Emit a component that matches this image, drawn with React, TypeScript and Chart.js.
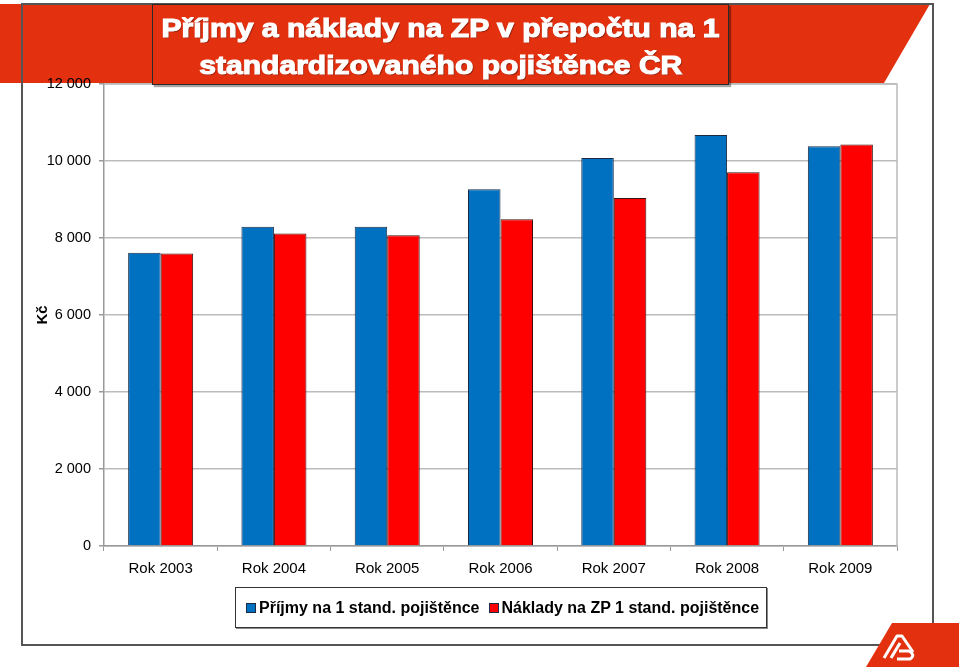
import React, { useEffect, useRef } from "react";
import { Chart, registerables } from "chart.js";

Chart.register(...registerables);

const categories = ["Rok 2003", "Rok 2004", "Rok 2005", "Rok 2006", "Rok 2007", "Rok 2008", "Rok 2009"];
const incomeValues = [7620, 8290, 8295, 9265, 10080, 10675, 10380];
const costValues = [7600, 8120, 8070, 8485, 9040, 9705, 10430];
const seriesLabels = ["Příjmy na 1 stand. pojištěnce", "Náklady na ZP 1 stand. pojištěnce"];
const seriesColors = ["#0070C0", "#FF0000"];
const titleLines = ["Příjmy a náklady na ZP v přepočtu na 1", "standardizovaného pojištěnce ČR"];
const yAxisTitle = "Kč";
const yMin = 0;
const yMax = 12000;
const yStep = 2000;

const RED = "#E3300F";
const FONT = "'Liberation Sans', Arial, Helvetica, sans-serif";

const formatThousands = (v: number) => String(v).replace(/\B(?=(\d{3})+(?!\d))/g, " ");

const plotBorder = {
  id: "plotBorder",
  beforeDatasetsDraw(chart: any) {
    const { ctx, chartArea } = chart;
    ctx.save();
    ctx.strokeStyle = "#BBBBBB";
    ctx.lineWidth = 1.5;
    ctx.beginPath();
    ctx.moveTo(chartArea.left, chartArea.top);
    ctx.lineTo(chartArea.right, chartArea.top);
    ctx.lineTo(chartArea.right, chartArea.bottom);
    ctx.stroke();
    ctx.restore();
  },
};

export default function App() {
  const canvasRef = useRef<HTMLCanvasElement | null>(null);

  useEffect(() => {
    if (!canvasRef.current) return;
    const chart = new Chart(canvasRef.current, {
      type: "bar",
      data: {
        labels: categories,
        datasets: [
          {
            label: seriesLabels[0],
            data: incomeValues,
            backgroundColor: seriesColors[0],
            borderColor: "#1B2B45",
            borderWidth: 1,
            categoryPercentage: 0.574,
            barPercentage: 1,
          },
          {
            label: seriesLabels[1],
            data: costValues,
            backgroundColor: seriesColors[1],
            borderColor: "#3A1010",
            borderWidth: 1,
            categoryPercentage: 0.574,
            barPercentage: 1,
          },
        ],
      },
      options: {
        responsive: false,
        animation: false,
        devicePixelRatio: 1,
        layout: { padding: { left: 30, right: 62, top: 84, bottom: 85 } },
        plugins: {
          legend: { display: false },
          title: { display: false },
          tooltip: { enabled: false },
        },
        scales: {
          x: {
            grid: {
              display: true,
              drawOnChartArea: false,
              drawTicks: true,
              tickLength: 5,
              color: "#999999",
              offset: true,
            },
            border: { color: "#999999", width: 1.5 },
            ticks: {
              color: "#000000",
              font: { family: FONT, size: 15 },
              padding: 9,
              maxRotation: 0,
              autoSkip: false,
            },
            afterFit: (s: any) => {
              s.height = 40;
            },
          },
          y: {
            min: yMin,
            max: yMax,
            ticks: {
              stepSize: yStep,
              color: "#000000",
              font: { family: FONT, size: 14.5 },
              padding: 8,
              callback: (v: any) => formatThousands(Number(v)),
            },
            grid: {
              color: "#BBBBBB",
              lineWidth: 1.5,
              tickLength: 5,
              drawTicks: true,
              tickColor: "#999999",
            },
            border: { color: "#999999", width: 1.5 },
            title: {
              display: true,
              text: yAxisTitle,
              color: "#000000",
              font: { family: FONT, size: 15, weight: "bold" },
            },
            afterFit: (s: any) => {
              s.width = 74;
            },
          },
        },
      },
      plugins: [plotBorder],
    });
    return () => chart.destroy();
  }, []);

  return (
    <div style={{ position: "absolute", left: 0, top: 0, width: 959, height: 671, overflow: "hidden", background: "#fff" }}>
      <svg width={959} height={671} style={{ position: "absolute", left: 0, top: 0 }}>
        <polygon points="0,4 930,4 884,83 0,83" fill={RED} />
        <rect x={22} y={4} width={911} height={641} fill="none" stroke="#555" strokeWidth={2} />
        <polygon points="892,623 959,623 959,667 866,667" fill={RED} />
        <g fill="none" stroke="#fff" strokeWidth={3} strokeLinejoin="round">
          <polyline points="884,658 897,636 902,636 913,652" />
          <polyline points="891,658 900,643" />
          <path d="M899,651 L909,651 Q916,655 910,659 L897,659" />
        </g>
      </svg>
      <canvas ref={canvasRef} width={959} height={671} style={{ position: "absolute", left: 0, top: 0 }} />
      <div
        style={{
          position: "absolute",
          left: 152,
          top: 4,
          width: 577,
          height: 81,
          boxSizing: "border-box",
          background: RED,
          border: "1.5px solid #2a2a2a",
          boxShadow: "2px 2px 1px rgba(0,0,0,0.35)",
          display: "flex",
          flexDirection: "column",
          alignItems: "center",
          justifyContent: "center",
          paddingTop: 4,
        }}
      >
        {titleLines.map((t, i) => (
          <div
            key={i}
            style={{
              fontFamily: FONT,
              fontWeight: "bold",
              fontSize: 25.5,
              lineHeight: "37px",
              color: "#fff",
              whiteSpace: "nowrap",
              transform: "scaleX(1.18)",
              WebkitTextStroke: "1.1px #fff",
              textShadow: "1px 1px 1px rgba(0,0,0,0.45)",
            }}
          >
            {t}
          </div>
        ))}
      </div>
      <div
        style={{
          position: "absolute",
          left: 235,
          top: 587,
          width: 532,
          height: 41,
          boxSizing: "border-box",
          border: "1px solid #333",
          boxShadow: "1px 1px 0 #888",
          background: "#fff",
          display: "flex",
          alignItems: "center",
          paddingLeft: 10,
          fontFamily: FONT,
          fontWeight: "bold",
          fontSize: 16,
          color: "#000",
          whiteSpace: "nowrap",
        }}
      >
        {seriesLabels.map((l, i) => (
          <div key={i} style={{ display: "flex", alignItems: "center", marginRight: i === 0 ? 9 : 0 }}>
            <span
              style={{
                display: "inline-block",
                width: 10,
                height: 10,
                boxSizing: "border-box",
                background: seriesColors[i],
                border: "1px solid #1B2B45",
                marginRight: 3,
              }}
            />
            <span>{l}</span>
          </div>
        ))}
      </div>
    </div>
  );
}
